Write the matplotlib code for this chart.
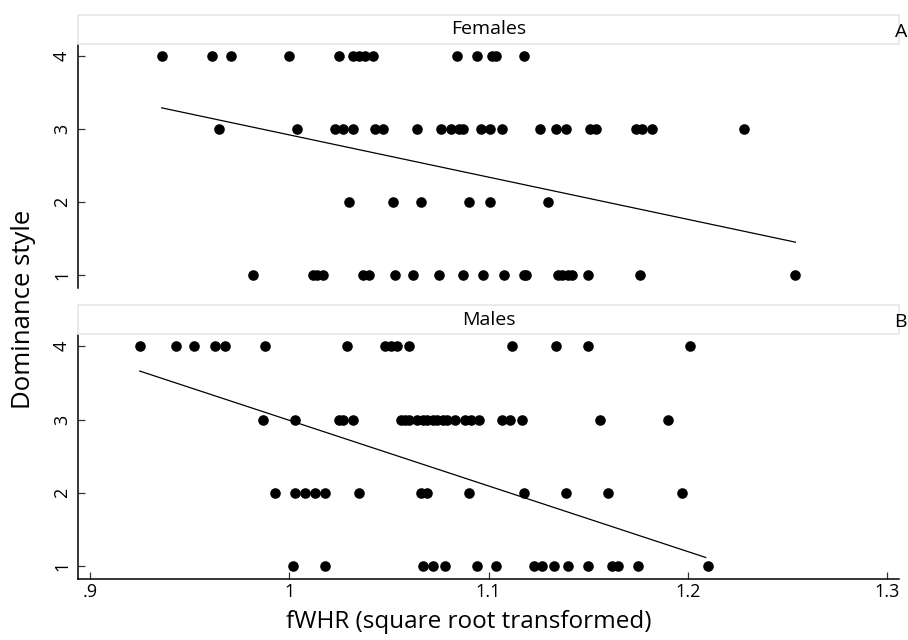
import matplotlib
matplotlib.use("Agg")
import matplotlib.pyplot as plt
from matplotlib.patches import Rectangle

plt.rcParams['font.family'] = ['Open Sans', 'DejaVu Sans']

#### data ####
# females: fWHR values per dominance style
fem_x4 = [0.936, 0.961, 0.971, 1.000, 1.025, 1.032, 1.035, 1.038, 1.042, 1.084, 1.094, 1.102, 1.104, 1.118]
fem_x3 = [0.965, 1.004, 1.023, 1.027, 1.032, 1.043, 1.047, 1.064, 1.076, 1.081, 1.085, 1.087, 1.096, 1.101,
          1.107, 1.126, 1.134, 1.139, 1.151, 1.154, 1.174, 1.177, 1.182, 1.228]
fem_x2 = [1.030, 1.052, 1.066, 1.090, 1.101, 1.130]
fem_x1 = [0.982, 1.012, 1.014, 1.017, 1.037, 1.040, 1.053, 1.062, 1.075, 1.087, 1.097, 1.108, 1.118, 1.119,
          1.135, 1.137, 1.140, 1.142, 1.150, 1.176, 1.254]
fem_fit_x = [0.936, 1.254]
fem_fit_y = [3.29, 1.45]

# males
male_x4 = [0.925, 0.943, 0.952, 0.963, 0.968, 0.988, 1.029, 1.048, 1.051, 1.054, 1.060, 1.112, 1.134, 1.150, 1.201]
male_x3 = [0.987, 1.003, 1.025, 1.027, 1.032, 1.056, 1.058, 1.060, 1.064, 1.067, 1.069, 1.072, 1.074, 1.077,
           1.079, 1.083, 1.088, 1.091, 1.095, 1.107, 1.111, 1.117, 1.156, 1.190]
male_x2 = [0.993, 1.003, 1.008, 1.013, 1.018, 1.035, 1.066, 1.069, 1.090, 1.118, 1.139, 1.160, 1.197]
male_x1 = [1.002, 1.018, 1.067, 1.072, 1.078, 1.094, 1.104, 1.123, 1.127, 1.133, 1.140, 1.150, 1.162, 1.165,
           1.175, 1.210]
male_fit_x = [0.925, 1.209]
male_fit_y = [3.66, 1.12]

x_ticks = [0.9, 1.0, 1.1, 1.2, 1.3]
x_ticklabels = ['.9', '1', '1.1', '1.2', '1.3']
y_ticks = [1, 2, 3, 4]

panels = [
    ('Females', 'A', [fem_x1, fem_x2, fem_x3, fem_x4], fem_fit_x, fem_fit_y),
    ('Males', 'B', [male_x1, male_x2, male_x3, male_x4], male_fit_x, male_fit_y),
]

fig = plt.figure(figsize=(9.08, 6.4), dpi=100)
left, width = 0.0859, 0.9042
ax_boxes = [(0.55, 0.3813), (0.0948, 0.3833)]
strip_h = 0.0453

for i, (title, letter, rows, fx, fy) in enumerate(panels):
    bottom, height = ax_boxes[i]
    ax = fig.add_axes([left, bottom, width, height])
    for level, xs in zip(y_ticks, rows):
        ax.scatter(xs, [level] * len(xs), s=58, color='black', linewidths=0, zorder=3)
    ax.plot(fx, fy, color='black', lw=0.9)

    ax.set_xlim(0.894, 1.306)
    ax.set_ylim(0.822, 4.165)
    ax.set_yticks(y_ticks)
    ax.set_yticklabels([str(t) for t in y_ticks], rotation=90, va='center', fontsize=13)
    ax.tick_params(axis='y', direction='in', length=5, width=0.9, color='#333333', pad=5)
    for side in ['top', 'right']:
        ax.spines[side].set_visible(False)
    ax.spines['left'].set_linewidth(1.1)

    if i == 0:
        ax.spines['bottom'].set_visible(False)
        ax.set_xticks([])
    else:
        ax.spines['bottom'].set_linewidth(1.1)
        ax.set_xticks(x_ticks)
        ax.set_xticklabels(x_ticklabels, fontsize=13)
        ax.tick_params(axis='x', direction='in', length=5, width=0.9, color='#333333', pad=3)

    # strip header
    sb = bottom + height
    fig.patches.append(Rectangle((left, sb), width, strip_h, transform=fig.transFigure,
                                 facecolor='white', edgecolor='#e6e6e6', lw=1.2))
    fig.text(left + width / 2, sb + strip_h / 2, title, ha='center', va='center', fontsize=14)
    fig.text(0.999, sb + strip_h / 2 - 0.004, letter, ha='right', va='center', fontsize=14)

fig.text(0.5165, 0.028, 'fWHR (square root transformed)', ha='center', va='center', fontsize=17.5)
fig.text(0.026, 0.516, 'Dominance style', rotation=90, ha='center', va='center', fontsize=18.5)

fig.savefig('out.png', dpi=100)
